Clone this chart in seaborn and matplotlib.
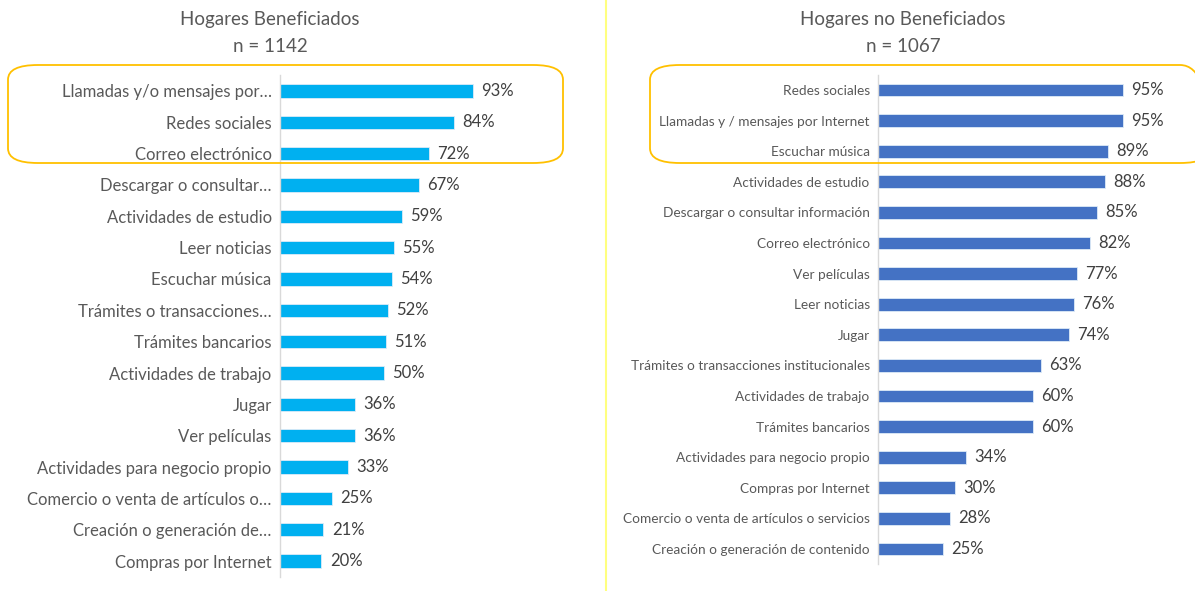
import seaborn as sns
import matplotlib.pyplot as plt
from matplotlib.patches import FancyBboxPatch
from matplotlib.lines import Line2D

sns.set_style("white")
plt.rcParams['font.family'] = ['Lato', 'DejaVu Sans']

# Hogares Beneficiados
cats_ben = ["Llamadas y/o mensajes por…", "Redes sociales", "Correo electrónico",
            "Descargar o consultar…", "Actividades de estudio", "Leer noticias",
            "Escuchar música", "Trámites o transacciones…", "Trámites bancarios",
            "Actividades de trabajo", "Jugar", "Ver películas",
            "Actividades para negocio propio", "Comercio o venta de artículos o…",
            "Creación o generación de…", "Compras por Internet"]
vals_ben = [93, 84, 72, 67, 59, 55, 54, 52, 51, 50, 36, 36, 33, 25, 21, 20]

# Hogares no Beneficiados
cats_nob = ["Redes sociales", "Llamadas y / mensajes por Internet", "Escuchar música",
            "Actividades de estudio", "Descargar o consultar información",
            "Correo electrónico", "Ver películas", "Leer noticias", "Jugar",
            "Trámites o transacciones institucionales", "Actividades de trabajo",
            "Trámites bancarios", "Actividades para negocio propio",
            "Compras por Internet", "Comercio o venta de artículos o servicios",
            "Creación o generación de contenido"]
vals_nob = [95, 95, 89, 88, 85, 82, 77, 76, 74, 63, 60, 60, 34, 30, 28, 25]

W, H = 1195, 591
fig = plt.figure(figsize=(W / 100, H / 100), dpi=100)
txt = "#595959"


def px_axes(x0, top, w, bottom):
    return fig.add_axes([x0 / W, 1 - bottom / H, w / W, (bottom - top) / H])


def panel(ax, cats, vals, color, lab_size):
    sns.barplot(x=vals, y=cats, ax=ax, color=color, width=0.42, orient="h",
                saturation=1, edgecolor="#DDEBF7", linewidth=0.6)
    ax.set_xlim(0, 100)
    ax.set_ylim(len(cats) - 0.5, -0.5)
    ax.set_xticks([])
    ax.set_xlabel("")
    ax.set_ylabel("")
    for s in ["top", "right", "bottom"]:
        ax.spines[s].set_visible(False)
    ax.spines["left"].set_color("#D9D9D9")
    ax.spines["left"].set_linewidth(1)
    ax.tick_params(axis="y", length=0, pad=6, labelsize=lab_size, labelcolor=txt)
    ax.bar_label(ax.containers[0], labels=[f"{v}%" for v in vals], padding=6,
                 fontsize=12, color="#404040")
    ax.patch.set_alpha(0)


ax1 = px_axes(280, 75.3, 207, 576.7)
panel(ax1, cats_ben, vals_ben, "#00B0F0", 12)

ax2 = px_axes(878, 74.7, 258, 564.3)
panel(ax2, cats_nob, vals_nob, "#4472C4", 9.8)

for x, title, n in [(270, "Hogares Beneficiados", "n = 1142"),
                    (903, "Hogares no Beneficiados", "n = 1067")]:
    fig.text(x / W, 1 - 20 / H, title, ha="center", va="center",
             fontsize=13.5, color=txt)
    fig.text(x / W, 1 - 46 / H, n, ha="center", va="center",
             fontsize=13.5, color=txt)

# highlight boxes
for x0, x1 in [(8, 563), (650, 1210)]:
    box = FancyBboxPatch((x0 / W, 1 - 163 / H), (x1 - x0) / W, 98 / H,
                         boxstyle="round,pad=0,rounding_size=0.025",
                         transform=fig.transFigure, fill=False,
                         edgecolor="#FFC000", linewidth=1.3, mutation_aspect=H / W * 2)
    fig.patches.append(box)

# divider
fig.lines.append(Line2D([606 / W, 606 / W], [0, 1], transform=fig.transFigure,
                        color="#FFFF80", linewidth=1.5))

fig.savefig("out.png", dpi=100)
